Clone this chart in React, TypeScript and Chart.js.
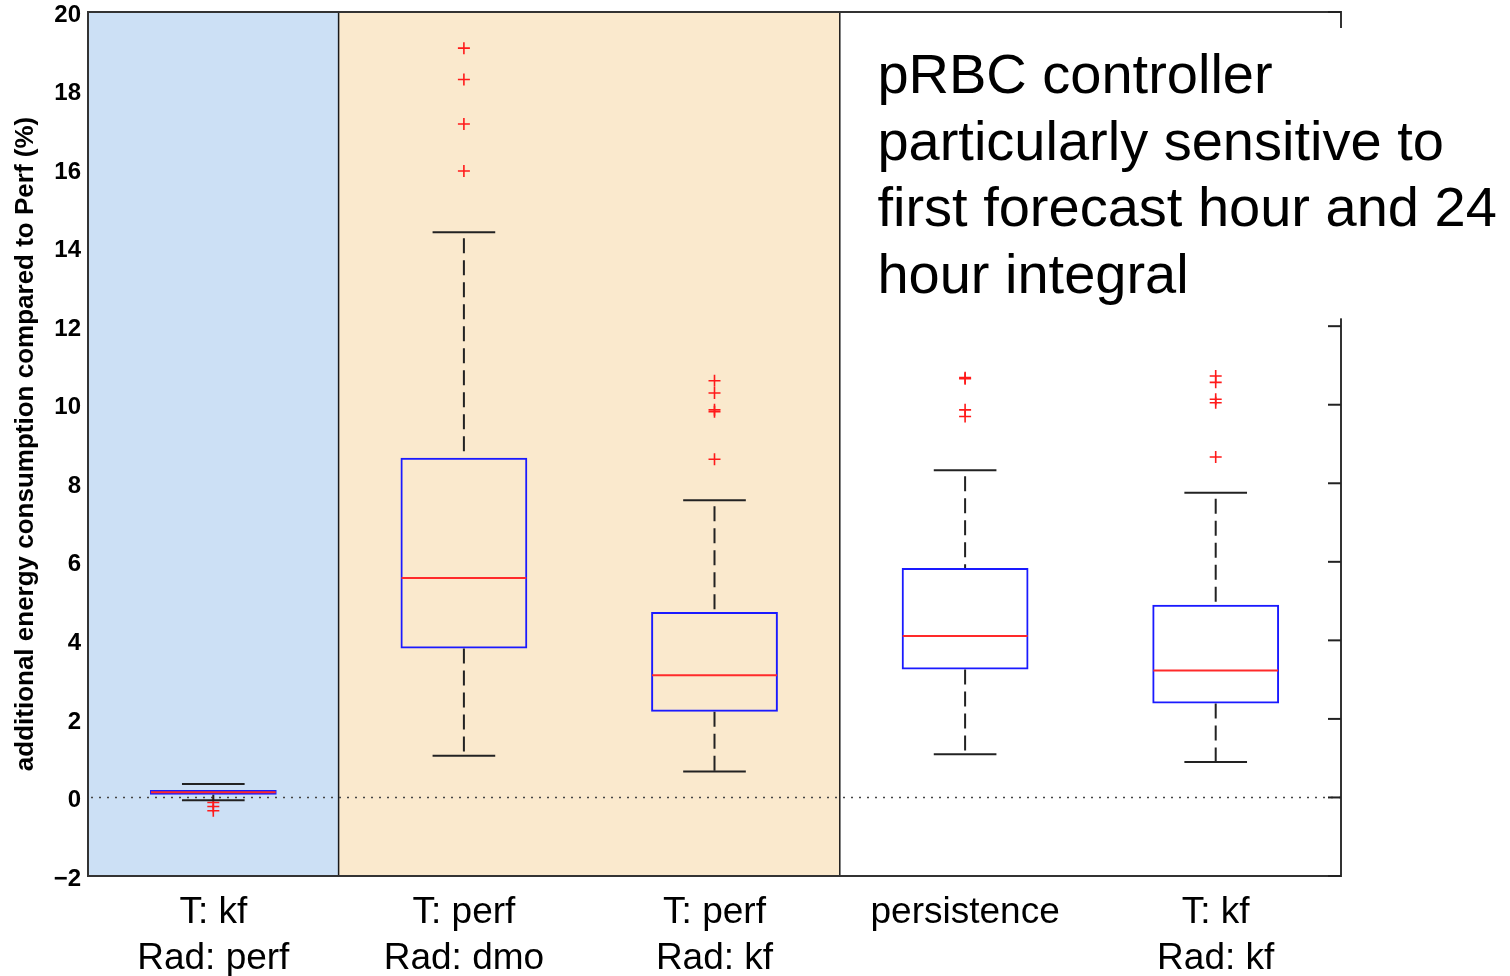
import React, { useEffect, useRef } from "react";
import { Chart, registerables } from "chart.js";

Chart.register(...registerables);

// Forecast set-ups compared against the perfect-forecast run
const categories: string[][] = [
  ["T: kf", "Rad: perf"],
  ["T: perf", "Rad: dmo"],
  ["T: perf", "Rad: kf"],
  ["persistence"],
  ["T: kf", "Rad: kf"],
];

// Box-plot statistics (% additional energy consumption)
const lowerWhisker = [-0.07, 1.06, 0.66, 1.1, 0.9];
const q1 = [0.07, 3.79, 2.18, 3.26, 2.39];
const median = [0.13, 5.59, 3.11, 4.11, 3.23];
const q3 = [0.19, 8.65, 4.72, 5.84, 4.91];
const upperWhisker = [0.34, 14.39, 7.57, 8.33, 7.76];
const outliers: number[][] = [
  [-0.13, -0.23, -0.34],
  [19.08, 18.28, 17.15, 15.95],
  [10.61, 10.3, 9.87, 9.82, 8.61],
  [10.69, 10.66, 9.87, 9.7],
  [10.73, 10.57, 10.14, 10.05, 8.67],
];

const yTicks = [-2, 0, 2, 4, 6, 8, 10, 12, 14, 16, 18, 20];
const yTitle = "additional energy consumption compared to Perf (%)";

// Shaded groups of categories (in category units)
const groupFrom = [0.5, 1.5];
const groupTo = [1.5, 3.5];
const groupColors = ["#cce0f5", "#fae9cd"];

const noteLines = [
  "pRBC controller",
  "particularly sensitive to",
  "first forecast hour and 24",
  "hour integral",
];

const FONT = '"Liberation Sans", Arial, Helvetica, sans-serif';

function strokeLine(ctx: CanvasRenderingContext2D, x0: number, y0: number, x1: number, y1: number) {
  ctx.beginPath();
  ctx.moveTo(x0, y0);
  ctx.lineTo(x1, y1);
  ctx.stroke();
}

const boxPlotParts = {
  id: "boxPlotParts",
  beforeDraw(chart: any) {
    const { ctx, chartArea, scales } = chart;
    const { top, bottom, left, right } = chartArea;
    const x = scales.x;
    const y = scales.y;
    ctx.save();
    groupFrom.forEach((from, i) => {
      const x0 = x.getPixelForValue(from);
      const x1 = x.getPixelForValue(groupTo[i]);
      ctx.fillStyle = groupColors[i];
      ctx.fillRect(x0, top, x1 - x0, bottom - top);
    });
    ctx.strokeStyle = "#1a1a1a";
    ctx.lineWidth = 1.5;
    groupTo.forEach((v) => {
      const px = x.getPixelForValue(v);
      strokeLine(ctx, px, top, px, bottom);
    });
    // dotted reference line at zero
    ctx.setLineDash([2, 6]);
    ctx.strokeStyle = "#444";
    ctx.lineWidth = 1.5;
    const y0 = y.getPixelForValue(0);
    strokeLine(ctx, left + 3, y0, right, y0);
    ctx.restore();
  },
  afterDatasetsDraw(chart: any) {
    const { ctx, scales } = chart;
    const x = scales.x;
    const y = scales.y;
    const capHalf = x.getPixelForValue(1.125) - x.getPixelForValue(1);
    const boxHalf = x.getPixelForValue(1.253) - x.getPixelForValue(1);
    ctx.save();
    categories.forEach((_, i) => {
      const cx = x.getPixelForValue(i + 1);
      const pLow = y.getPixelForValue(lowerWhisker[i]);
      const pQ1 = y.getPixelForValue(q1[i]);
      const pMed = y.getPixelForValue(median[i]);
      const pQ3 = y.getPixelForValue(q3[i]);
      const pUp = y.getPixelForValue(upperWhisker[i]);

      ctx.strokeStyle = "#222";
      ctx.lineWidth = 2;
      ctx.setLineDash([15, 7]);
      ctx.lineDashOffset = 16;
      strokeLine(ctx, cx, pUp, cx, pQ3);
      ctx.lineDashOffset = 0;
      strokeLine(ctx, cx, pQ1, cx, pLow);
      ctx.setLineDash([]);

      strokeLine(ctx, cx - capHalf, pUp, cx + capHalf, pUp);
      strokeLine(ctx, cx - capHalf, pLow, cx + capHalf, pLow);

      ctx.strokeStyle = "#ff2a2a";
      ctx.lineWidth = 2;
      strokeLine(ctx, cx - boxHalf + 1, pMed, cx + boxHalf - 1, pMed);
    });
    ctx.restore();
  },
  afterDraw(chart: any) {
    const { ctx, chartArea, scales, width } = chart;
    const { top, bottom, left, right } = chartArea;
    const x = scales.x;
    const y = scales.y;
    ctx.save();
    // axes frame
    ctx.strokeStyle = "#333";
    ctx.lineWidth = 2;
    ctx.strokeRect(left, top, right - left, bottom - top);
    // inward ticks on the right-hand axis
    ctx.strokeStyle = "#222";
    yTicks.forEach((v) => {
      const py = y.getPixelForValue(v);
      strokeLine(ctx, right - 13, py, right, py);
    });
    // note panel
    const nx0 = x.getPixelForValue(3.55);
    const ny0 = top + 16;
    const ny1 = y.getPixelForValue(12.2);
    ctx.fillStyle = "#fff";
    ctx.fillRect(nx0, ny0, width - nx0, ny1 - ny0);
    ctx.fillStyle = "#000";
    ctx.font = `56px ${FONT}`;
    ctx.textAlign = "left";
    ctx.textBaseline = "alphabetic";
    const tx = x.getPixelForValue(3.65);
    noteLines.forEach((line, i) => {
      ctx.fillText(line, tx, top + 81 + i * 66.7);
    });
    ctx.restore();
  },
};

export default function App() {
  const canvasRef = useRef<HTMLCanvasElement | null>(null);

  useEffect(() => {
    const canvas = canvasRef.current;
    if (!canvas) return;
    const chart = new Chart(canvas, {
      type: "bar",
      data: {
        datasets: [
          {
            type: "bar",
            data: categories.map((_, i) => ({ x: i + 1, y: [q1[i], q3[i]] })) as any,
            backgroundColor: "rgba(0,0,0,0)",
            borderColor: "#1a1aff",
            borderWidth: 2,
            borderSkipped: false,
            categoryPercentage: 1,
            barPercentage: 0.506,
            order: 2,
          } as any,
          {
            type: "scatter",
            data: outliers.flatMap((vals, i) => vals.map((v) => ({ x: i + 1, y: v }))),
            pointStyle: "cross",
            pointRadius: 6,
            pointHoverRadius: 6,
            borderColor: "#ff1a1a",
            backgroundColor: "#ff1a1a",
            borderWidth: 1.6,
            order: 1,
          } as any,
        ],
      },
      options: {
        animation: false,
        responsive: true,
        maintainAspectRatio: false,
        layout: {
          autoPadding: false,
          padding: { top: 12, right: 169, bottom: 0, left: 0 },
        },
        plugins: {
          legend: { display: false },
          tooltip: { enabled: false },
        },
        scales: {
          x: {
            type: "linear",
            min: 0.5,
            max: 5.5,
            offset: false,
            grid: { display: false, drawTicks: false },
            border: { display: false },
            afterBuildTicks: (s: any) => {
              s.ticks = categories.map((_, i) => ({ value: i + 1 }));
            },
            afterFit: (s: any) => {
              s.height = 100;
              s.paddingLeft = 0;
              s.paddingRight = 0;
            },
            ticks: {
              autoSkip: false,
              maxRotation: 0,
              minRotation: 0,
              padding: 14,
              color: "#000",
              font: { family: FONT, size: 37, lineHeight: 46 / 37 },
              callback: (v: any) => categories[Math.round(Number(v)) - 1] ?? "",
            },
          } as any,
          y: {
            type: "linear",
            min: -2,
            max: 20,
            grid: { display: false, drawTicks: false },
            border: { display: false },
            afterBuildTicks: (s: any) => {
              s.ticks = yTicks.map((v) => ({ value: v }));
            },
            afterFit: (s: any) => {
              s.width = 88;
              s.paddingTop = 0;
              s.paddingBottom = 0;
            },
            ticks: {
              padding: 7,
              labelOffset: 3,
              color: "#000",
              font: { family: FONT, size: 24, weight: "bold" },
              callback: (v: any) => String(v).replace("-", "\u2212"),
            },
            title: {
              display: true,
              text: yTitle,
              color: "#000",
              font: { family: FONT, size: 26, weight: "bold", lineHeight: 1.2 },
              padding: { top: 10.4, bottom: 0 },
            },
          } as any,
        },
      },
      plugins: [boxPlotParts as any],
    });
    return () => chart.destroy();
  }, []);

  return (
    <div style={{ position: "absolute", left: 0, top: 0, width: 1510, height: 976 }}>
      <canvas ref={canvasRef} />
    </div>
  );
}
